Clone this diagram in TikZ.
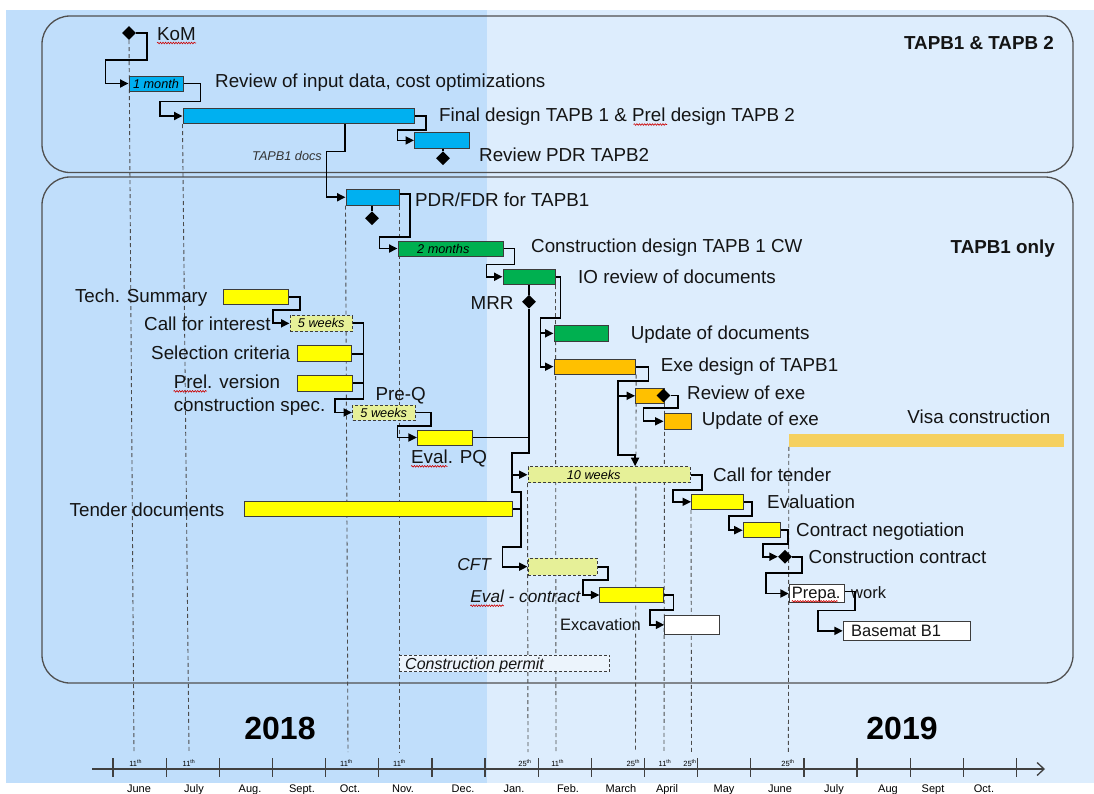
\documentclass[tikz,border=0pt]{standalone}
\usepackage{fontspec}
\setmainfont{Liberation Sans}
\usepackage{xcolor}
\usepackage{tikz}
\usetikzlibrary{arrows.meta,shapes.geometric,decorations.pathmorphing,backgrounds}
\definecolor{bgleft}{RGB}{192,222,251}
\definecolor{bgright}{RGB}{221,237,253}
\definecolor{designcyan}{RGB}{0,176,240}
\definecolor{cwgreen}{RGB}{0,176,80}
\definecolor{tenderyellow}{RGB}{255,255,0}
\definecolor{exeorange}{RGB}{255,192,0}
\definecolor{waitfill}{RGB}{230,240,152}
\definecolor{visagold}{RGB}{245,208,95}
\definecolor{permitfill}{RGB}{236,244,252}
\definecolor{framegray}{RGB}{80,80,80}
\definecolor{barline}{RGB}{60,60,60}
\newcommand{\pxfont}[1]{\fontsize{#1}{#1}\selectfont}
\newcommand{\gtask}[7]{%
  \node (#2) [#1, minimum width={#4-#3}, minimum height={#6-#5}] at ({(#3+#4)/2},{(#5+#6)/2}) {#7};}

\begin{document}
\begin{tikzpicture}[x=1pt, y=-1pt, >={Triangle[length=8.5pt,width=8pt]},
  task/.style={draw=barline, line width=1pt, inner sep=0pt, font=\pxfont{12.7}\itshape},
  cyantask/.style={task, fill=designcyan},
  greentask/.style={task, fill=cwgreen},
  yellowtask/.style={task, fill=tenderyellow},
  orangetask/.style={task, fill=exeorange},
  whitetask/.style={task, fill=white},
  waittask/.style={task, fill=waitfill, dash pattern=on 3pt off 2pt},
  mstone/.style={diamond, fill=black, inner sep=0pt, minimum width=14pt, minimum height=14pt},
  link/.style={->, line width=1.8pt},
  joint/.style={line width=1.8pt},
  guide/.style={draw=black!70, line width=0.9pt, dash pattern=on 4pt off 3pt},
  panelframe/.style={draw=framegray, line width=1.3pt, rounded corners=28pt},
  lbl/.style={inner sep=0pt, anchor=base west, text=black!92, font=\pxfont{18.8}},
  lble/.style={lbl, anchor=base east},
  smalllbl/.style={font=\pxfont{16.5}},
  notelbl/.style={font=\pxfont{17.2}\itshape},
  bartxt/.style={inner sep=0pt, anchor=base, font=\pxfont{12.7}\itshape},
  spell/.style={draw=red!80!black, line width=0.6pt, decorate, decoration={snake, amplitude=0.8pt, segment length=2.6pt}},
  axisline/.style={draw=black!75, line width=1.3pt},
  month/.style={inner sep=0pt, anchor=base, font=\pxfont{11}},
  daylbl/.style={inner sep=0pt, anchor=base, font=\pxfont{7.5}},
  year/.style={inner sep=0pt, anchor=base, font=\pxfont{32}\bfseries}]

\begin{scope}[on background layer]
  \fill[bgleft] (6,10) rectangle (487,783);
  \fill[bgright] (487,10) rectangle (1094,783);
\end{scope}
\useasboundingbox (0,0) rectangle (1094,793);

\draw[panelframe] (42,16) rectangle (1073,172.5);
\draw[panelframe] (42,177) rectangle (1073,683);

% TAPB1 & TAPB 2
\node (kom) [mstone] at (129,33) {};
\gtask{cyantask}{month1}{129}{183}{76}{91}{1 month}
\gtask{cyantask}{fd}{183}{414.5}{108.5}{123.5}{}
\gtask{cyantask}{rvb2}{414.5}{469.3}{132.5}{148.3}{}
\node (msb2) [mstone] at (443,158.3) {};
\node (komlbl) [lbl] at (157,40) {KoM};
\node (rvinlbl) [lbl] at (215,87.3) {Review of input data, cost optimizations};
\node (fdlbl) [lbl] at (439,121.5) {Final design TAPB 1 \& Prel design TAPB 2};
\node (rvb2lbl) [lbl] at (479,161.7) {Review PDR TAPB2};
\node (hdr1) [lble, font=\pxfont{18.8}\bfseries] at (1054,49.3) {TAPB1 \& TAPB 2};
\node (docslbl) [bartxt, text=black!80] at (287,160.7) {TAPB1 docs};

% TAPB1 only
\gtask{cyantask}{pdr}{346}{399}{189.5}{205}{}
\node (mpdr) [mstone] at (372,218.3) {};
\gtask{greentask}{cd}{398}{503}{241}{256}{}
\node (cdtxt) [bartxt] at (443.3,253.3) {2 months};
\gtask{greentask}{io}{503}{555}{269}{284.5}{}
\node (mrr) [mstone] at (529,301.7) {};
\gtask{greentask}{upd}{554}{608.5}{325}{341.7}{}
\gtask{orangetask}{exe}{554}{635.6}{359.3}{374}{}
\gtask{orangetask}{rvx}{635.6}{664}{388.3}{403.3}{}
\node (mrvx) [mstone] at (663.5,395.5) {};
\gtask{orangetask}{upx}{664}{691.5}{413.3}{429.3}{}
\node (visa) [fill=visagold, inner sep=0pt, minimum width=275pt, minimum height=12.4pt] at (926.5,440.5) {};

\gtask{yellowtask}{tsum}{223.4}{288.7}{289}{304.7}{}
\gtask{waittask}{cfi}{290}{352.5}{315.7}{331}{5 weeks}
\gtask{yellowtask}{selc}{297.4}{351.5}{345.7}{361.7}{}
\gtask{yellowtask}{prel}{297.4}{352}{375}{391}{}
\gtask{waittask}{preq}{352.5}{415}{405}{420}{5 weeks}
\gtask{yellowtask}{evpq}{417.4}{472.5}{430}{445}{}
\gtask{yellowtask}{tender}{244}{512}{501.7}{516.7}{}
\gtask{waittask}{cft10}{528}{690}{466.7}{482.7}{}
\node (cft10txt) [bartxt] at (593.7,479) {10 weeks};
\gtask{yellowtask}{eva}{691.5}{743.2}{494.3}{509.3}{}
\gtask{yellowtask}{cneg}{743.2}{780.2}{522.7}{537.7}{}
\node (mcc) [mstone] at (785,556.7) {};
\gtask{whitetask}{prep}{789.3}{844.3}{584.3}{602.7}{}
\gtask{whitetask}{bsm}{843.3}{970.7}{621.7}{640}{}
\gtask{waittask}{cft}{528}{597}{558.3}{575}{}
\gtask{yellowtask}{evc}{599.9}{663.5}{587.3}{602.7}{}
\gtask{whitetask}{exc}{664.8}{719}{615.7}{634}{}
\gtask{waittask, fill=permitfill}{cperm}{399.2}{609.5}{655}{671.7}{}

\node (pdrlbl) [lbl] at (415,206) {PDR/FDR for TAPB1};
\node (cdlbl) [lbl] at (531,252.7) {Construction design TAPB 1 CW};
\node (hdr2) [lble, font=\pxfont{18.8}\bfseries] at (1055,253.3) {TAPB1 only};
\node (iolbl) [lbl] at (578,283.3) {IO review of documents};
\node (mrrlbl) [lble] at (513.6,309.3) {MRR};
\node (updlbl) [lbl] at (630.7,339.3) {Update of documents};
\node (exelbl) [lbl] at (660.7,371.7) {Exe design of TAPB1};
\node (rvxlbl) [lbl] at (687,399.3) {Review of exe};
\node (upxlbl) [lbl] at (701.7,425) {Update of exe};
\node (visalbl) [lble] at (1050.5,423.3) {Visa construction};
\node (tsumlbl) [lble] at (207.6,302.7) {Tech. Summary};
\node (cfilbl) [lble] at (270.8,330) {Call for interest};
\node (selclbl) [lble] at (290.4,359.3) {Selection criteria};
\node (prellbl) [lbl] at (173.6,388.3) {Prel. version};
\node (prellblb) [lbl] at (173.6,411.7) {construction spec.};
\node (preqlbl) [lbl] at (375.3,400) {Pre-Q};
\node (evpqlbl) [lbl] at (411,463.3) {Eval. PQ};
\node (tenderlbl) [lble] at (224.5,516.7) {Tender documents};
\node (cft10lbl) [lbl] at (712.8,481) {Call for tender};
\node (evalbl) [lbl] at (767,508.3) {Evaluation};
\node (cneglbl) [lbl] at (796,536) {Contract negotiation};
\node (mcclbl) [lbl] at (808.5,563.3) {Construction contract};
\node (preplbl) [lbl, smalllbl] at (791.7,598.3) {Prepa.};
\node (worklbl) [lbl, smalllbl] at (851,598.3) {work};
\node (bsmlbl) [lbl, smalllbl] at (851,636.7) {Basemat B1};
\node (cftlbl) [lble, notelbl] at (491,570.7) {CFT};
\node (evclbl) [lble, notelbl] at (580.6,602.7) {Eval - contract};
\node (exclbl) [lble, smalllbl] at (641,630) {Excavation};
\node (cpermlbl) [lbl, font=\pxfont{16}\itshape] at (405,669.3) {Construction permit};

\draw[spell] ([yshift=-3pt]komlbl.base west) -- ([yshift=-3pt]komlbl.base east);
\draw[spell] ([xshift=194.5pt,yshift=-3pt]fdlbl.base west) -- ([xshift=228pt,yshift=-3pt]fdlbl.base west);
\draw[spell] ([yshift=-3pt]prellbl.base west) -- ([xshift=33pt,yshift=-3pt]prellbl.base west);
\draw[spell] ([yshift=-3pt]evpqlbl.base west) -- ([xshift=36.5pt,yshift=-3pt]evpqlbl.base west);
\draw[spell] ([yshift=-3pt]evclbl.base west) -- ([xshift=33.5pt,yshift=-3pt]evclbl.base west);
\draw[spell] ([yshift=-3pt]preplbl.base west) -- ([xshift=46pt,yshift=-3pt]preplbl.base west);

% links
\draw[link] (kom.east) -- ++(11,0) -- ++(0,27) -| ([xshift=-23pt]month1.west) -- (month1.west);
\draw[link] (month1.east) -- ++(17,0) -- ++(0,18) -| ([xshift=-22.5pt]fd.west) -- (fd.west);
\draw[link] (fd.east) -- ++(11,0) -- ++(0,14) -| ([xshift=-16.5pt]rvb2.west) -- (rvb2.west);
\draw[joint] (rvb2.south -| msb2) -- (msb2.north);
\draw[link] ([xshift=162.5pt]fd.south west) -- ++(0,27.5) -| ([xshift=-19pt]pdr.west) -- (pdr.west);
\draw[joint] (pdr.south -| mpdr) -- (mpdr.north);
\draw[link] ([yshift=3pt]pdr.east) -- ++(10.5,0) -- ++(0,42.5) -| ([xshift=-18pt]cd.west) -- (cd.west);
\draw[link] (cd.east) -- ++(11,0) -- ++(0,16) -| ([xshift=-16pt]io.west) -- (io.west);
\draw[link] (io.east) -- ++(5,0) -- ++(0,41.5) -| ([xshift=-13pt]exe.west) -- (exe.west);
\draw[link] ([xshift=-13pt]upd.west) -- (upd.west);
\draw[joint] (io.south -| mrr) -- (mrr.north);
\draw[link] (mrr.south) -- ++(0,144) -- ++(-17,0) -- ++(0,39) -- ++(9,0) -- ++(0,55) -| ([xshift=-25pt]cft.west) -- (cft.west);
\draw[link] ([xshift=-16pt]cft10.west) -- (cft10.west);
\draw[joint] (evpq.east) -- (evpq.east -| mrr);
\draw[joint] (tender.east) -- ++(9,0);
\draw[link] (tsum.east) -- ++(10.5,0) -- ++(0,13) -| ([xshift=-16.4pt]cfi.west) -- (cfi.west);
\draw[link] (cfi.east) -- ++(10.5,0) -- ++(0,76) -| ([xshift=-16.8pt]preq.west) -- (preq.west);
\draw[joint] (selc.east) -- ++(11.5,0);
\draw[joint] (prel.east) -- ++(11,0);
\draw[link] (preq.east) -- ++(15.7,0) -- ++(0,13.5) -| ([xshift=-19.4pt]evpq.west) -- (evpq.west);
\draw[link] (exe.east) -- ++(12.4,0) -- ++(0,14) -| ([xshift=-17.2pt]rvx.west) -- (rvx.west);
\draw[link] ([xshift=-17.2pt]rvx.west) -- ++(0,59.2) -| (cft10.north -| rvx.west);
\draw[link] (mrvx.east) -- ++(7,0) -- ++(0,12.5) -| ([xshift=-20pt]upx.west) -- (upx.west);
\draw[link] (cft10.east) -- ++(11.3,0) -- ++(0,15.3) -| ([xshift=-17.7pt]eva.west) -- (eva.west);
\draw[link] (eva.east) -- ++(8.6,0) -- ++(0,14.2) -| ([xshift=-14pt]cneg.west) -- (cneg.west);
\draw[link] (cneg.east) -- ++(7.4,0) -- ++(0,14) -| ([xshift=-15pt]mcc.west) -- (mcc.west);
\draw[link] (mcc.east) -- ++(10,0) -- ++(0,16) -| ([xshift=-23pt]prep.west) -- (prep.west);
\draw[link] ([yshift=2pt]prep.east) -- ++(10.2,0) -- ++(0,19) -| ([xshift=-25pt]bsm.west) -- (bsm.west);
\draw[link] (cft.east) -- ++(10.3,0) -- ++(0,13.3) -| ([xshift=-16.4pt]evc.west) -- (evc.west);
\draw[link] (evc.east) -- ++(9.5,0) -- ++(0,15) -| ([xshift=-14.4pt]exc.west) -- (exc.west);

% time axis
\coordinate (ax0) at (92,769);
\coordinate (ax1) at (1045,769);
\draw[axisline, -{Straight Barb[length=7pt,width=13pt]}] (ax0) -- (ax1);
\foreach \i in {0,...,17}
  \draw[axisline] ({113+53.15*\i},758) -- ++(0,19);
\foreach \x/\m [count=\k] in {139/June, 194/July, 250/Aug., 302/Sept., 350/Oct., 403/Nov., 463/Dec., 514/Jan., 568/Feb., 621/March, 667/April, 724/May, 780/June, 834/July, 888/Aug, 933/Sept, 984/Oct.}
  \node (mon\k) [month] at (\x,792.5) {\m};
\foreach \x/\d [count=\k] in {135.7/11, 189/11, 346.5/11, 399.5/11, 525/25, 557.7/11, 633.3/25, 665/11, 690/25, 788/25}
  \node (day\k) [daylbl] at (\x,766.3) {\d\textsuperscript{th}};
\node (yr2018) [year] at (280,739.3) {2018};
\node (yr2019) [year] at (902,739.3) {2019};

\coordinate (gJun) at (134,752);
\coordinate (gJul) at (189,752);
\coordinate (gOct) at (348,752);
\coordinate (gNov) at (399.5,752);
\coordinate (gJan) at (528,752);
\coordinate (gFeb) at (556,752);
\coordinate (gMar) at (635.5,752);
\coordinate (gApr) at (664,752);
\coordinate (gAprb) at (691.5,752);
\coordinate (gJunb) at (788.4,752);
\begin{scope}[on background layer]
  \draw[guide] (kom.south) -- (gJun);
  \draw[guide] (fd.south west) -- (gJul);
  \draw[guide] (pdr.south west) -- (gOct);
  \draw[guide] (pdr.south east) -- (gNov);
  \draw[guide] (cft10.south west) -- (gJan);
  \draw[guide] (io.south east) -- (gFeb);
  \draw[guide] (exe.south east) -- (gMar);
  \draw[guide] (rvx.south east) -- (gApr);
  \draw[guide] (eva.south west) -- (gAprb);
  \draw[guide] (visa.south west) -- (gJunb);
\end{scope}
\end{tikzpicture}
\end{document}
